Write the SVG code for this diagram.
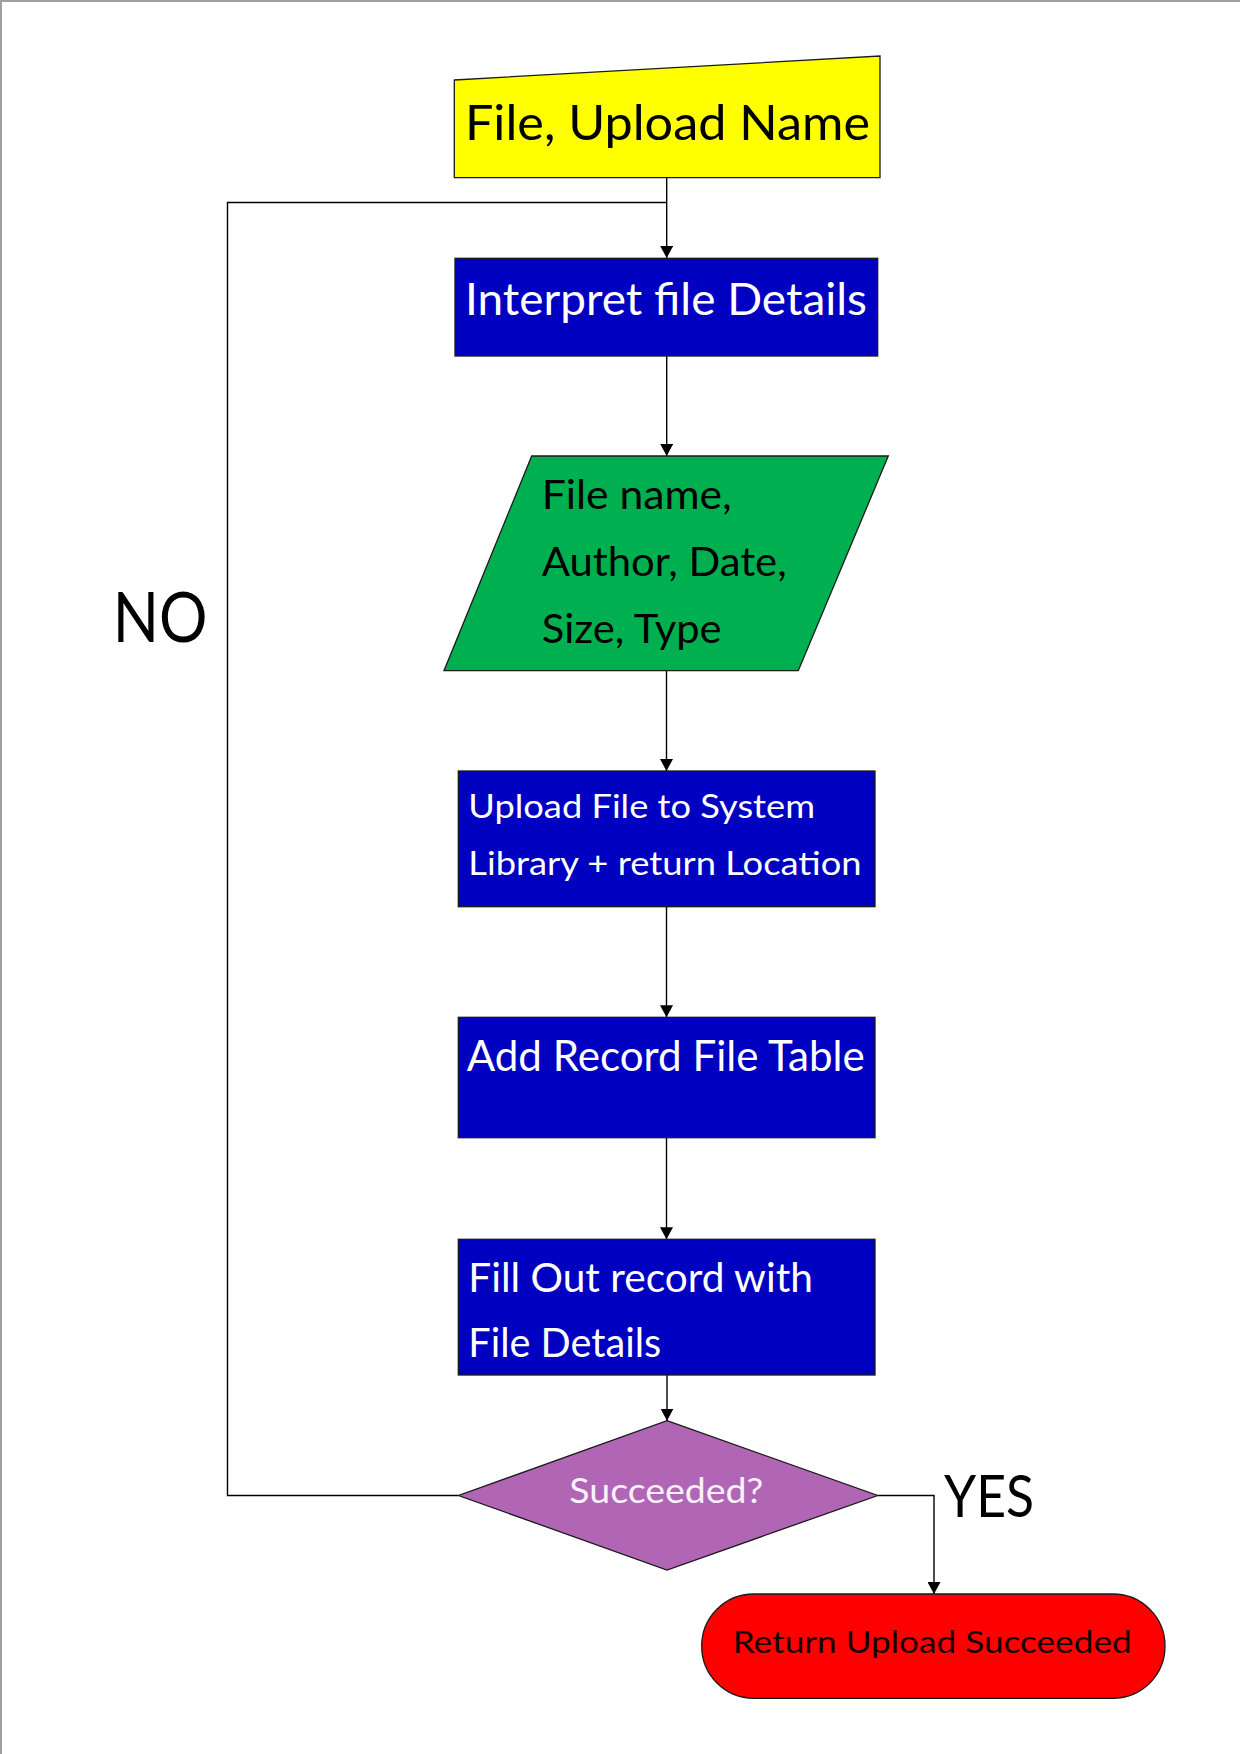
<svg xmlns="http://www.w3.org/2000/svg" width="1240" height="1754" viewBox="0 0 1240 1754">
<style>
  .shape { stroke: #1a1a1a; stroke-width: 1.3; }
  .conn { fill: none; stroke: #000; stroke-width: 1.4; }
  .t { font-family: Lato, "Open Sans", "Liberation Sans", sans-serif; }
  .w { fill: #ffffff; }
  .k { fill: #000000; }
</style>
<defs>
  <marker id="arrow" markerUnits="userSpaceOnUse" markerWidth="13" markerHeight="13" refX="12" refY="6.5" orient="auto">
    <path d="M0,0 L12,6.5 L0,13 Z" fill="#000"/>
  </marker>
</defs>
<rect x="0" y="0" width="1240" height="1754" fill="#ffffff"/>
<path d="M1,1754 L1,1 L1240,1" fill="none" stroke="#a0a0a0" stroke-width="2"/>

<g id="connectors">
  <path class="conn" d="M666.7,177.7 L666.7,258" marker-end="url(#arrow)"/>
  <path class="conn" d="M458.5,1495.5 L227.5,1495.5 L227.5,202.5 L666.7,202.5"/>
  <path class="conn" d="M666.7,356 L666.7,456" marker-end="url(#arrow)"/>
  <path class="conn" d="M666.5,670.7 L666.5,771" marker-end="url(#arrow)"/>
  <path class="conn" d="M666.5,906.7 L666.5,1017.3" marker-end="url(#arrow)"/>
  <path class="conn" d="M666.5,1137.7 L666.5,1239.3" marker-end="url(#arrow)"/>
  <path class="conn" d="M667,1375 L667,1420.7" marker-end="url(#arrow)"/>
  <path class="conn" d="M877.7,1495.5 L934,1495.5 L934,1594" marker-end="url(#arrow)"/>
</g>

<g id="node-input">
  <polygon class="shape" fill="#ffff00" points="454.3,80 880,56 880,177.7 454.3,177.7"/>
  <text class="t k" x="465" y="140" font-size="49" textLength="405" lengthAdjust="spacingAndGlyphs">File, Upload Name</text>
</g>

<g id="node-interpret">
  <rect class="shape" fill="#0000c0" x="455" y="258.3" width="422.7" height="97.7"/>
  <text class="t w" x="465" y="315" font-size="45" textLength="402" lengthAdjust="spacingAndGlyphs">Interpret file Details</text>
</g>

<g id="node-details">
  <polygon class="shape" fill="#00b050" points="531.7,456 888.3,456 798.3,670.7 444,670.7"/>
  <text class="t k" x="541.7" y="509" font-size="41" textLength="190" lengthAdjust="spacingAndGlyphs">File name,</text>
  <text class="t k" x="541.7" y="576" font-size="41" textLength="245" lengthAdjust="spacingAndGlyphs">Author, Date,</text>
  <text class="t k" x="541.7" y="643" font-size="41" textLength="180" lengthAdjust="spacingAndGlyphs">Size, Type</text>
</g>

<g id="node-upload">
  <rect class="shape" fill="#0000c0" x="458.3" y="771" width="416.7" height="135.7"/>
  <text class="t w" x="468.3" y="817.7" font-size="33" textLength="346.7" lengthAdjust="spacingAndGlyphs">Upload File to System</text>
  <text class="t w" x="468.3" y="875" font-size="33" textLength="393.3" lengthAdjust="spacingAndGlyphs">Library + return Location</text>
</g>

<g id="node-add-record">
  <rect class="shape" fill="#0000c0" x="458.3" y="1017.3" width="416.7" height="120.4"/>
  <text class="t w" x="466.7" y="1070.7" font-size="42" textLength="398" lengthAdjust="spacingAndGlyphs">Add Record File Table</text>
</g>

<g id="node-fill-out">
  <rect class="shape" fill="#0000c0" x="458.3" y="1239.3" width="416.7" height="135.7"/>
  <text class="t w" x="468.3" y="1291.7" font-size="40" textLength="344.7" lengthAdjust="spacingAndGlyphs">Fill Out record with</text>
  <text class="t w" x="468.3" y="1356.7" font-size="40" textLength="193" lengthAdjust="spacingAndGlyphs">File Details</text>
</g>

<g id="node-decision">
  <polygon class="shape" fill="#b065b5" points="667,1420.7 877.7,1495.5 667,1570 458.5,1495.5"/>
  <text class="t" fill="#fbf0fb" x="569.3" y="1503.3" font-size="34" textLength="194" lengthAdjust="spacingAndGlyphs">Succeeded?</text>
</g>

<g id="node-return">
  <rect class="shape" fill="#ff0000" x="701.7" y="1594" width="463.3" height="104.3" rx="52" ry="52"/>
  <text class="t" fill="#1a0000" x="732.7" y="1653.3" font-size="31" textLength="399" lengthAdjust="spacingAndGlyphs">Return Upload Succeeded</text>
</g>

<g id="labels">
  <text class="t k" x="944" y="1516.7" font-size="59" textLength="90" lengthAdjust="spacingAndGlyphs">YES</text>
  <text class="t k" x="112.7" y="641.7" font-size="70" textLength="94.7" lengthAdjust="spacingAndGlyphs">NO</text>
</g>
</svg>
